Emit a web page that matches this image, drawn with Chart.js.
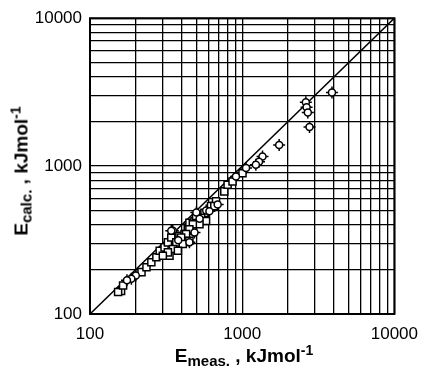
<!DOCTYPE html>
<html>
<head>
<meta charset="utf-8">
<script src="https://cdn.jsdelivr.net/npm/chart.js@4"></script>
<style>
  body { margin: 0; background: #fff; }
  #wrap { position: relative; width: 428px; height: 371px; }
  .title {
    position: absolute;
    font-family: "Liberation Sans", Arial, sans-serif;
    font-weight: bold;
    font-size: 19px;
    color: #000;
    white-space: nowrap;
    transform: translate(-50%, -50%);
  }
  .title sub { font-size: 15px; vertical-align: -4px; }
  .title sup { font-size: 14px; vertical-align: 7px; }
  #ytitle { transform: translate(-50%, -50%) rotate(-90deg); }
</style>
</head>
<body>
<div id="wrap">
  <canvas id="chart" width="428" height="371"></canvas>
  <div class="title" id="xtitle" style="left:244px; top:355px;">E<sub>meas.</sub> , kJmol<sup>-1</sup></div>
  <div class="title" id="ytitle" style="left:21px; top:171px;">E<sub>calc.</sub> , kJmol<sup>-1</sup></div>
</div>
<script>
// circles with ticks
const circleMeas = [3890, 2620, 2650, 2700, 2770, 1750, 1360, 1290, 1230, 1060, 910, 690, 580, 500, 525, 350, 342, 450, 380, 200, 187, 175, 609, 486];
const circleCalc = [3150, 2700, 2500, 2300, 1840, 1390, 1160, 1070, 1020, 970, 850, 550, 500, 485, 440, 365, 365, 305, 315, 182, 173, 169, 496, 355];

// squares
const squareMeas = [160, 153, 165, 218, 235, 253, 273, 287, 309, 325, 342, 387, 418, 474, 439, 450, 486, 550, 624, 673, 763, 802, 864, 1005, 333,
  656, 565, 537, 498, 579, 524, 474, 450, 428, 397, 450, 369, 407, 351, 378, 325, 301];
const squareCalc = [143, 141, 156, 192, 207, 224, 242, 268, 282, 305, 329, 338, 347, 365, 384, 414, 425, 472, 536, 579, 675, 749, 787, 895, 248,
  536, 483, 448, 460, 425, 404, 404, 374, 347, 329, 313, 305, 297, 275, 268, 261, 248];

const tickLabels = [100, 1000, 10000];
const axisMin = 100;
const axisMax = 10000;

const gridValues = [];
for (let p = 100; p < axisMax; p *= 10) {
  for (let m = 1; m < 10; m++) gridValues.push(m * p);
}
gridValues.push(axisMax);

const toPoints = (xs, ys) => xs.map((x, i) => ({ x: x, y: ys[i] }));

const frame = {
  id: 'frame',
  afterDatasetsDraw(chart) {
    const a = chart.chartArea;
    const ctx = chart.ctx;
    ctx.save();
    ctx.strokeStyle = '#000';
    ctx.lineWidth = 2;
    ctx.strokeRect(a.left, a.top, a.right - a.left, a.bottom - a.top);
    ctx.restore();
  }
};

const axisOpts = (size, isX) => ({
  type: 'logarithmic',
  min: axisMin,
  max: axisMax,
  afterBuildTicks: scale => {
    scale.ticks = gridValues.map(v => ({ value: v }));
  },
  afterFit: scale => {
    if (isX) scale.height = size; else scale.width = size;
  },
  grid: {
    color: '#000',
    lineWidth: 1.3,
    drawTicks: false,
  },
  border: { display: false },
  ticks: {
    autoSkip: false,
    maxRotation: 0,
    padding: isX ? 10 : 8,
    color: '#000',
    font: { family: '"Liberation Sans", Arial, sans-serif', size: 17 },
    callback: value => (tickLabels.includes(value) ? String(value) : ''),
  },
});

new Chart(document.getElementById('chart'), {
  type: 'scatter',
  data: {
    datasets: [
      {
        type: 'line',
        data: [{ x: axisMin, y: axisMin }, { x: axisMax, y: axisMax }],
        borderColor: '#000',
        borderWidth: 1.5,
        pointRadius: 0,
        order: 4,
      },
      {
        data: toPoints(circleMeas, circleCalc),
        pointStyle: 'cross',
        pointRadius: 6,
        borderColor: '#000',
        borderWidth: 1.5,
        order: 3,
      },
      {
        data: toPoints(squareMeas, squareCalc),
        pointStyle: 'rect',
        pointRadius: 5,
        backgroundColor: '#fff',
        borderColor: '#000',
        borderWidth: 1.5,
        order: 2,
      },
      {
        data: toPoints(circleMeas, circleCalc),
        pointStyle: 'circle',
        pointRadius: 3.5,
        backgroundColor: '#fff',
        borderColor: '#000',
        borderWidth: 1.5,
        order: 1,
      },
    ],
  },
  options: {
    responsive: false,
    animation: false,
    layout: { padding: { top: 15, right: 32, left: 0, bottom: 0 } },
    plugins: {
      legend: { display: false },
      tooltip: { enabled: false },
    },
    scales: {
      x: axisOpts(57, true),
      y: axisOpts(90, false),
    },
  },
  plugins: [frame],
});
</script>
</body>
</html>
